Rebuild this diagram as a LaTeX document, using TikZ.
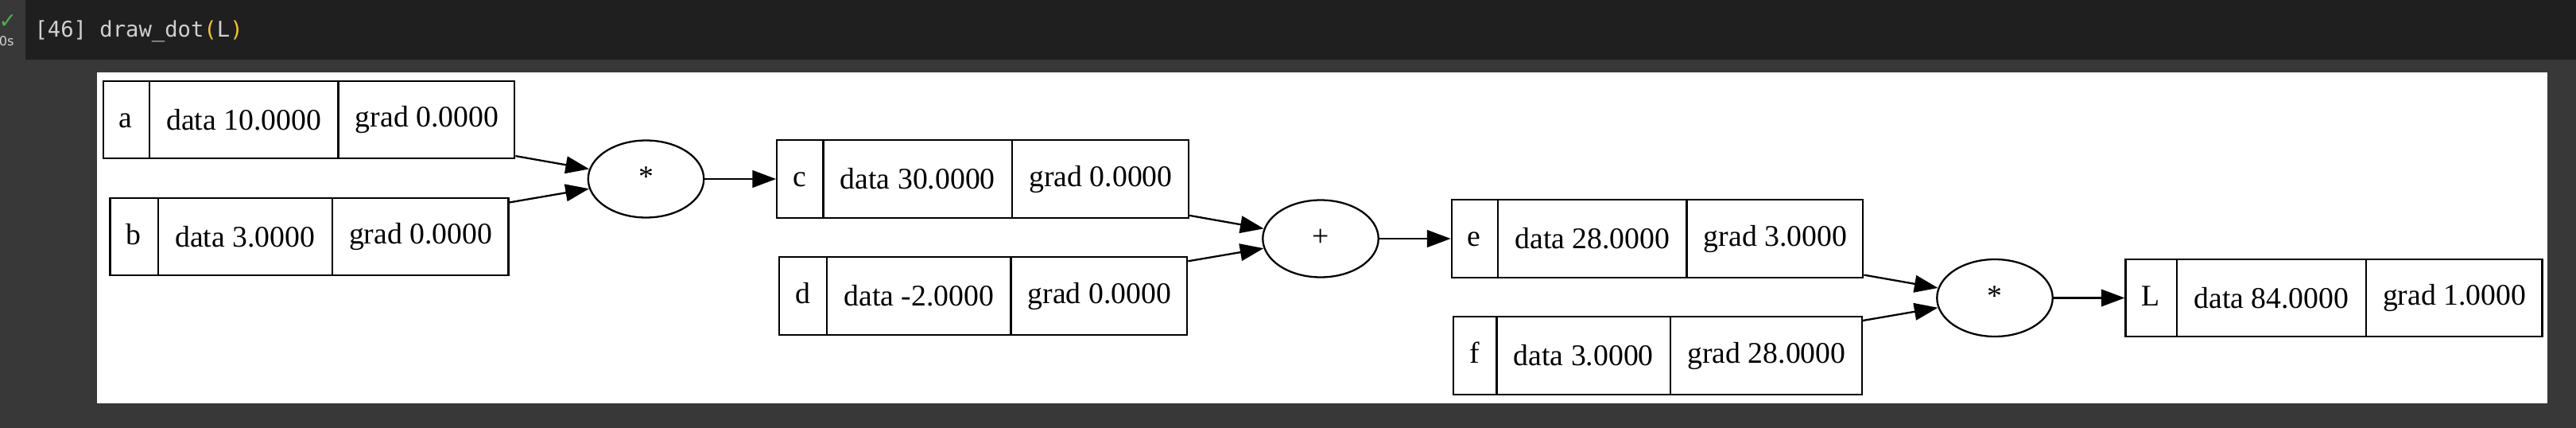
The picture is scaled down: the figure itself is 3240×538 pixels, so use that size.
\documentclass[tikz,border=0pt]{standalone}
\usepackage{fontspec}
\setmainfont{Liberation Serif}
\newfontfamily\codefont{DejaVu Sans Mono}
\newfontfamily\symfont{DejaVu Sans}
\usepackage{xcolor}
\usetikzlibrary{shapes.multipart,shapes.geometric,arrows.meta}

\definecolor{cellbg}{HTML}{1F1F1F}
\definecolor{pagebg}{HTML}{383838}
\definecolor{codegray}{HTML}{D0D0D0}
\definecolor{parenyellow}{HTML}{F7C325}
\definecolor{okgreen}{HTML}{4CAF50}

\tikzset{
    record/.style={draw, line width=0.85pt, rectangle split, rectangle split horizontal,
        rectangle split parts=3, font=\fontsize{14}{16}\selectfont,
        text height=10.2pt, text depth=2.8pt, inner xsep=7.5pt, inner ysep=11.5pt},
    op/.style={draw, line width=0.85pt, ellipse, minimum width=54pt, minimum height=36pt,
        inner sep=0pt, font=\fontsize{14}{16}\selectfont, text height=10.2pt, text depth=2.8pt},
    wire/.style={line width=0.85pt, -{Triangle[length=11pt,width=8pt]}}
}

\begin{document}
\begin{tikzpicture}[x=0.3712pt, y=-0.3712pt]
        \useasboundingbox (0,0) rectangle (3240,538);
        \fill[pagebg] (0,0) rectangle (3240,538);
        \fill[cellbg] (32,0) rectangle (3240,75);
        \fill[white] (122,91) rectangle (3204,507);

        % cell header
        \node (tick) at (10,27) {\symfont\fontsize{10}{12}\selectfont\textcolor{okgreen}{✓}};
        \node (time) [anchor=base east, inner sep=0pt, text=codegray] at (18,58) {\symfont\fontsize{6}{7}\selectfont 0s};
        \node (cmd) [anchor=base west, inner sep=0pt, text=codegray] at (43,46)
            {\codefont\fontsize{10.1}{12}\selectfont [46] draw\_dot\textcolor{parenyellow}{(}L\textcolor{parenyellow}{)}};

        % graph
        \node[record] (a) at (388.5,150.5) {a \nodepart{two} data 10.0000 \nodepart{three} grad 0.0000};
        \node[record] (b) at (389,297.5) {b \nodepart{two} data 3.0000 \nodepart{three} grad 0.0000};
        \node[op] (mul1) at (812.5,225) {*};

        \node[record] (c) at (1236,225) {c \nodepart{two} data 30.0000 \nodepart{three} grad 0.0000};
        \node[record] (d) at (1236.5,372) {d \nodepart{two} data -2.0000 \nodepart{three} grad 0.0000};
        \node[op] (add) at (1661,300) {+};

        \node[record] (e) at (2084.5,300) {e \nodepart{two} data 28.0000 \nodepart{three} grad 3.0000};
        \node[record] (f) at (2085,447) {f \nodepart{two} data 3.0000 \nodepart{three} grad 28.0000};
        \node[op] (mul2) at (2509,374.5) {*};

        \node[record] (L) at (2935.5,374.5) {L \nodepart{two} data 84.0000 \nodepart{three} grad 1.0000};

        \draw[wire] (a) -- (mul1);
        \draw[wire] (b) -- (mul1);
        \draw[wire] (mul1) -- (c);

        \draw[wire] (c) -- (add);
        \draw[wire] (d) -- (add);
        \draw[wire] (add) -- (e);

        \draw[wire] (e) -- (mul2);
        \draw[wire] (f) -- (mul2);
        \draw[wire] (mul2) -- (L);

    \end{tikzpicture}
\end{document}
